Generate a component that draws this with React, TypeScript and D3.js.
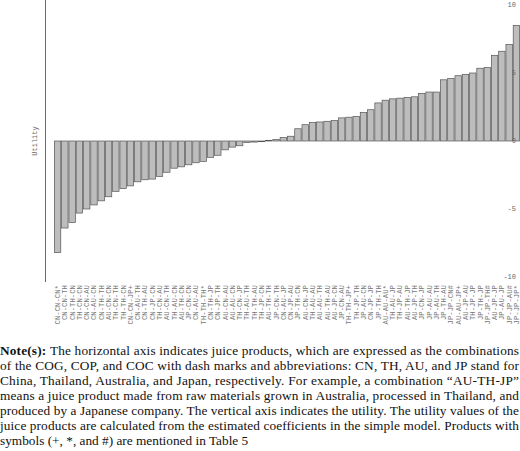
import React from 'react';
import * as d3 from 'd3';

const products = [
  'CN-CN-CN*', 'CN-CN-TH', 'CN-TH-CN', 'TH-CN-CN', 'CN-CN-AU', 'CN-AU-CN', 'CN-TH-TH', 'AU-CN-CN',
  'TH-CN-TH', 'TH-TH-CN', 'CN-CN-JP+', 'CN-AU-TH', 'CN-TH-AU', 'CN-JP-CN', 'TH-CN-AU', 'AU-CN-TH',
  'TH-AU-CN', 'AU-TH-CN', 'JP-CN-CN', 'CN-AU-AU', 'TH-TH-TH*', 'CN-TH-JP', 'CN-JP-TH', 'AU-CN-AU',
  'AU-AU-CN', 'TH-CN-JP', 'TH-AU-TH', 'TH-TH-AU', 'TH-JP-CN', 'AU-TH-TH', 'JP-CN-TH', 'CN-AU-JP',
  'CN-JP-AU', 'JP-TH-CN', 'AU-CN-JP', 'TH-AU-AU', 'AU-AU-TH', 'AU-TH-AU', 'AU-JP-CN', 'JP-CN-AU',
  'TH-TH-JP+', 'TH-JP-TH', 'JP-AU-CN', 'CN-JP-JP', 'JP-TH-TH', 'AU-AU-AU*', 'TH-AU-JP', 'TH-JP-AU',
  'AU-TH-JP', 'AU-JP-TH', 'JP-CN-JP', 'JP-AU-AU', 'JP-AU-TH', 'JP-TH-AU', 'JP-JP-CN#', 'AU-AU-JP+',
  'AU-JP-AU', 'TH-JP-JP', 'JP-TH-JP', 'JP-JP-TH#', 'AU-JP-JP', 'JP-AU-JP', 'JP-JP-AU#', 'JP-JP-JP*',
];

const utilities = [
  -8.2, -6.4, -6.0, -5.3, -5.0, -4.7, -4.4, -4.1,
  -3.7, -3.5, -3.3, -3.0, -2.85, -2.8, -2.6, -2.3,
  -2.0, -1.9, -1.75, -1.6, -1.5, -1.2, -1.05, -0.65,
  -0.45, -0.35, -0.12, -0.08, -0.05, 0.05, 0.1, 0.25,
  0.35, 0.9, 1.2, 1.35, 1.4, 1.45, 1.5, 1.7,
  1.75, 1.8, 2.1, 2.3, 2.8, 3.0, 3.1, 3.15,
  3.2, 3.25, 3.5, 3.6, 3.6, 4.5, 4.6, 4.8,
  4.9, 5.0, 5.35, 5.4, 6.3, 6.6, 7.1, 8.5,
];

const yTicks = [10, 5, 0, -5, -10];

const noteLines = [
  'The horizontal axis indicates juice products, which are expressed as the combinations',
  'of the COG, COP, and COC with dash marks and abbreviations: CN, TH, AU, and JP stand for',
  'China, Thailand, Australia, and Japan, respectively. For example, a combination \u201cAU-TH-JP\u201d',
  'means a juice product made from raw materials grown in Australia, processed in Thailand, and',
  'produced by a Japanese company. The vertical axis indicates the utility. The utility values of the',
  'juice products are calculated from the estimated coefficients in the simple model. Products with',
  'symbols (+, *, and #) are mentioned in Table 5',
];

export default function App() {
  const W = 520;
  const H = 451;
  const x = d3.scaleBand<string>().domain(products).range([54, 520]).paddingInner(0.12).paddingOuter(0.05);
  const y = d3.scaleLinear().domain([-10, 10]).range([277, 5]);
  const mono = 'Liberation Mono, DejaVu Sans Mono, monospace';
  const serif = 'Liberation Serif, Times New Roman, serif';
  const noteTop = 355;
  const lineH = 15;
  return (
    <svg width={W} height={H} style={{ position: 'absolute', left: 0, top: 0, background: '#fff' }}>
      <line x1={45.5} x2={45.5} y1={0} y2={282} stroke="#444" strokeWidth={0.8} />
      <text
        transform={`translate(37,${y(0)}) rotate(-90)`}
        textAnchor="middle"
        fontFamily={mono}
        fontSize={7}
        fill="#666"
      >
        Utility
      </text>
      {products.map((p, i) => {
        const v = utilities[i];
        const x0 = x(p) as number;
        return (
          <rect
            key={p}
            x={x0}
            y={Math.min(y(v), y(0))}
            width={x.bandwidth()}
            height={Math.abs(y(v) - y(0))}
            fill="#bdbdbd"
            stroke="#555"
            strokeWidth={0.7}
          />
        );
      })}
      {yTicks.map((t) => (
        <text
          key={t}
          x={516}
          y={y(t)}
          dy="0.35em"
          textAnchor="end"
          fontFamily={mono}
          fontSize={7}
          fill="#666"
        >
          {t}
        </text>
      ))}
      {products.map((p) => {
        const cx = (x(p) as number) + x.bandwidth() / 2;
        return (
          <text
            key={'l' + p}
            transform={`translate(${cx + 2.5},285) rotate(-90)`}
            textAnchor="end"
            fontFamily={mono}
            fontSize={7.3}
            fill="#777"
          >
            {p}
          </text>
        );
      })}
      {noteLines.map((l, i) => (
        <text
          key={'n' + i}
          x={0}
          y={noteTop + i * lineH}
          fontFamily={serif}
          fontSize={13.3}
          fill="#111"
          textLength={i < noteLines.length - 1 ? 519 : undefined}
          lengthAdjust="spacing"
        >
          {i === 0 && <tspan fontWeight="bold">Note(s): </tspan>}
          {l}
        </text>
      ))}
    </svg>
  );
}
